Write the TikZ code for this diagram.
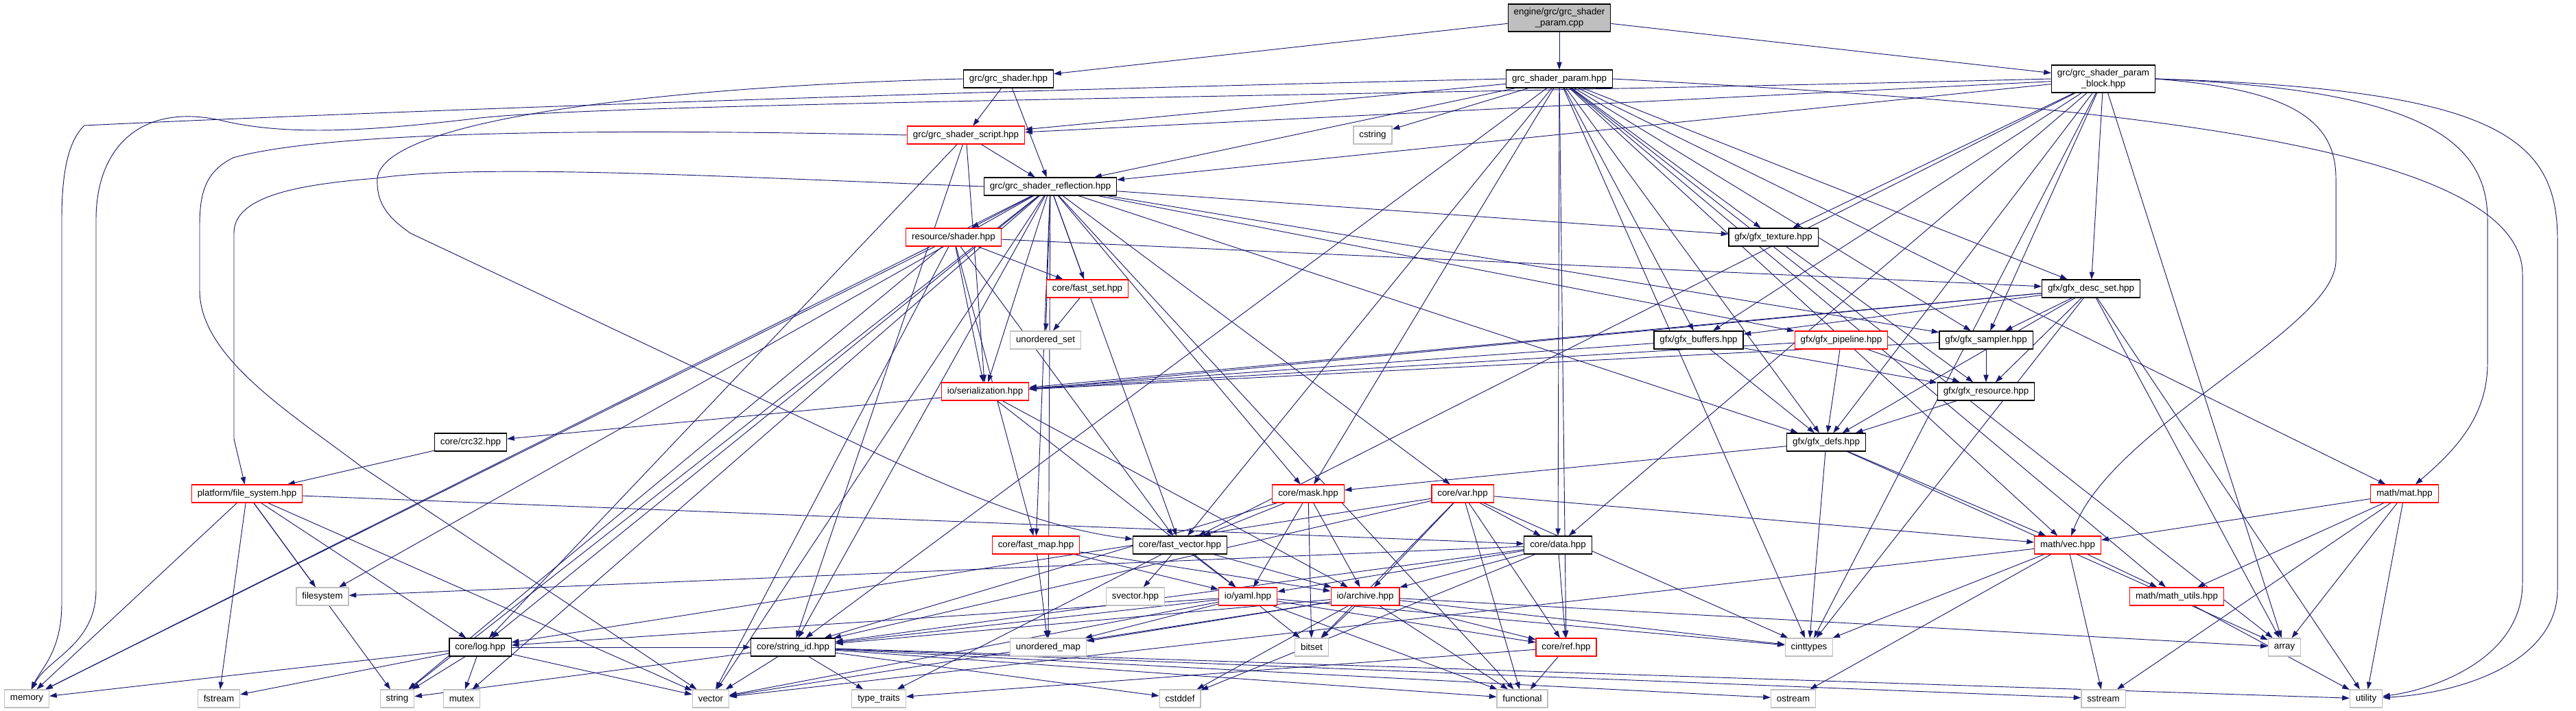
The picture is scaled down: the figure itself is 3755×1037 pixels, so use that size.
\documentclass[tikz,border=0pt]{standalone}
\usepackage{fontspec}
\setmainfont{Liberation Sans}
\usetikzlibrary{arrows.meta, backgrounds}
\definecolor{cedge}{HTML}{191970}
\definecolor{cred}{HTML}{FF0000}
\definecolor{cgrey}{HTML}{BFBFBF}
\tikzset{
  every picture/.style={font=\fontsize{10}{11.5}\selectfont},
  file/.style={draw=#1, fill=white, line width=0.9pt, inner xsep=6.3pt, inner ysep=0pt, minimum height=19.5pt, align=center},
  file/.default=black,
  trunc/.style={file=cred},
  sys/.style={file=cgrey},
  root/.style={file, fill=cgrey, minimum height=30pt},
  dep/.style={-{Triangle[length=8pt,width=5.5pt]}, draw=cedge, line width=0.7pt},
}

\begin{document}
\begin{tikzpicture}[x=0.75pt, y=-0.75pt]
  \useasboundingbox (0,0) rectangle (3755,1037);
  % top files
  \node[root] (root) at (2273,26) {engine/grc/grc\_shader\\\_param.cpp};
  \node[file] (grcshader) at (1470,115) {grc/grc\_shader.hpp};
  \node[file] (gsp) at (2273,115) {grc\_shader\_param.hpp};
  \node[file, minimum height=30pt] (gspb) at (3066,115) {grc/grc\_shader\_param\\\_block.hpp};
  \node[trunc] (script) at (1408,197) {grc/grc\_shader\_script.hpp};
  \node[sys] (cstring) at (2001,197) {cstring};
  \node[file] (refl) at (1531,272) {grc/grc\_shader\_reflection.hpp};
  % gfx and resources
  \node[trunc] (shader) at (1390,346) {resource/shader.hpp};
  \node[file] (texture) at (2585,346) {gfx/gfx\_texture.hpp};
  \node[trunc] (fastset) at (1585,421) {core/fast\_set.hpp};
  \node[file] (descset) at (3048,421) {gfx/gfx\_desc\_set.hpp};
  \node[sys] (uset) at (1524,496) {unordered\_set};
  \node[file] (buffers) at (2476,496) {gfx/gfx\_buffers.hpp};
  \node[trunc] (pipeline) at (2684,496) {gfx/gfx\_pipeline.hpp};
  \node[file] (sampler) at (2895,496) {gfx/gfx\_sampler.hpp};
  \node[trunc] (serial) at (1436,571) {io/serialization.hpp};
  \node[file] (gfxres) at (2895,571) {gfx/gfx\_resource.hpp};
  \node[file] (crc32) at (686,645) {core/crc32.hpp};
  \node[file] (defs) at (2662,645) {gfx/gfx\_defs.hpp};
  % core, io and math
  \node[trunc] (filesys) at (360,720) {platform/file\_system.hpp};
  \node[trunc] (mask) at (1907,720) {core/mask.hpp};
  \node[trunc] (var) at (2132,720) {core/var.hpp};
  \node[trunc] (mat) at (3505,720) {math/mat.hpp};
  \node[trunc] (fastmap) at (1510,795) {core/fast\_map.hpp};
  \node[file] (fvec) at (1720,795) {core/fast\_vector.hpp};
  \node[file] (data) at (2271,795) {core/data.hpp};
  \node[trunc] (vec) at (3014,795) {math/vec.hpp};
  \node[sys] (filesystem) at (470,870) {filesystem};
  \node[sys] (svector) at (1655,870) {svector.hpp};
  \node[trunc] (yaml) at (1819,870) {io/yaml.hpp};
  \node[trunc] (archive) at (1990,870) {io/archive.hpp};
  \node[trunc] (mathutils) at (3173,870) {math/math\_utils.hpp};
  \node[file] (log) at (700,944) {core/log.hpp};
  \node[file] (strid) at (1156,944) {core/string\_id.hpp};
  \node[sys] (umap) at (1528,944) {unordered\_map};
  \node[sys] (bitset) at (1912,944) {bitset};
  \node[trunc] (ref) at (2283,944) {core/ref.hpp};
  \node[sys] (cinttypes) at (2637,944) {cinttypes};
  \node[sys] (array) at (3330,944) {array};
  % system headers
  \node[sys] (memory) at (39,1019) {memory};
  \node[sys] (fstream) at (319,1019) {fstream};
  \node[sys] (string) at (579,1019) {string};
  \node[sys] (mutex) at (673,1019) {mutex};
  \node[sys] (vector) at (1036,1019) {vector};
  \node[sys] (typetraits) at (1281,1019) {type\_traits};
  \node[sys] (cstddef) at (1720,1019) {cstddef};
  \node[sys] (functional) at (2219,1019) {functional};
  \node[sys] (ostream) at (2614,1019) {ostream};
  \node[sys] (sstream) at (3066,1019) {sstream};
  \node[sys] (utility) at (3449,1019) {utility};
  % includes
  \begin{scope}[on background layer]
    \foreach \t in {grcshader,gsp,gspb} \draw[dep] (root) -- (\t);
    \foreach \t in {script,refl} \draw[dep] (grcshader) -- (\t);
    \foreach \t in {script,cstring,refl,texture,descset,buffers,sampler,defs,mask,fvec,data,vec,mat,ref,strid,mathutils,cinttypes,array}
      \draw[dep] (gsp) -- (\t);
    \foreach \t in {script,refl,texture,descset,buffers,sampler,defs,fvec,data,cinttypes,array}
      \draw[dep] (gspb) -- (\t);
    \foreach \t in {refl,serial,strid,log} \draw[dep] (script) -- (\t);
    \foreach \t in {shader,texture,fastset,uset,pipeline,sampler,serial,defs,mask,var,fastmap,fvec,log,strid,umap,memory,string,mutex,vector,functional,filesystem}
      \draw[dep] (refl) -- (\t);
    \foreach \t in {fastset,descset,serial,fastmap,fvec,memory,string,vector} \draw[dep] (shader) -- (\t);
    \draw[dep] (texture) -- (gfxres);
    \draw[dep] (fastset) -- (uset);
    \foreach \t in {buffers,sampler,gfxres,serial,crc32,defs,cinttypes,array,utility} \draw[dep] (descset) -- (\t);
    \foreach \t in {serial,gfxres,defs} \draw[dep] (buffers) -- (\t);
    \foreach \t in {serial,gfxres,defs} \draw[dep] (pipeline) -- (\t);
    \foreach \t in {serial,gfxres} \draw[dep] (sampler) -- (\t);
    \draw[dep] (gfxres) -- (defs);
    \foreach \t in {mask,vec,cinttypes,array} \draw[dep] (defs) -- (\t);
    \draw[dep] (crc32) -- (filesys);
    \foreach \t in {memory,fstream,string,filesystem,vector,data,log} \draw[dep] (filesys) -- (\t);
    \foreach \t in {fvec,yaml,archive,bitset,strid} \draw[dep] (mask) -- (\t);
    \foreach \t in {data,ref,functional,archive,strid,vec,cinttypes,bitset,log} \draw[dep] (var) -- (\t);
    \foreach \t in {umap,yaml,archive} \draw[dep] (fastmap) -- (\t);
    \foreach \t in {svector,yaml,archive,typetraits} \draw[dep] (fvec) -- (\t);
    \foreach \t in {yaml,archive,ref,cstddef,strid,filesystem} \draw[dep] (data) -- (\t);
    \foreach \t in {mathutils,cinttypes,sstream,ostream,vector} \draw[dep] (vec) -- (\t);
    \foreach \t in {vec,mathutils,array,sstream,utility} \draw[dep] (mat) -- (\t);
    \draw[dep] (mathutils) -- (utility);
    \foreach \t in {yaml,archive} \draw[dep] (serial) -- (\t);
    \foreach \t in {umap,bitset,ref,strid,cinttypes,log,vector,functional} \draw[dep] (yaml) -- (\t);
    \foreach \t in {umap,bitset,ref,strid,cinttypes,array,vector,functional,cstddef} \draw[dep] (archive) -- (\t);
    \foreach \t in {memory,fstream,string,mutex,vector,strid} \draw[dep] (log) -- (\t);
    \foreach \t in {string,vector,typetraits,cstddef,functional,ostream,sstream,utility} \draw[dep] (strid) -- (\t);
    \foreach \t in {functional,typetraits} \draw[dep] (ref) -- (\t);
    % long routes round the sides
    \draw[dep] (gsp.west) .. controls (1300,135) and (500,165) .. (123,183)
      .. controls (100,205) and (90,250) .. (90,320) -- (90,880) .. controls (90,950) and (60,975) .. (memory);
    \draw[dep] (gspb.west) .. controls (2000,140) and (900,150) .. (700,172)
      .. controls (550,190) and (420,200) .. (320,175) .. controls (200,150) and (140,220) .. (140,320)
      -- (140,860) .. controls (140,940) and (70,960) .. (memory);
    \draw[dep] (script.west) .. controls (1000,190) and (500,185) .. (340,230)
      .. controls (300,250) and (291,280) .. (291,330) -- (291,423)
      .. controls (291,520) and (420,600) .. (526,680) -- (vector);
    \draw[dep] (refl.west) .. controls (1100,260) and (700,237) .. (549,260)
      .. controls (420,270) and (341,290) .. (341,340) -- (341,640) -- (filesys);
    \draw[dep] (grcshader.west) .. controls (1000,125) and (560,170) .. (550,260)
      .. controls (548,300) and (570,320) .. (598,340) -- (1250,648) .. controls (1450,745) and (1560,775) .. (fvec);
    \draw[dep] (gspb.east) .. controls (3330,130) and (3405,170) .. (3405,260) -- (3405,380)
      .. controls (3405,480) and (3080,620) .. (vec);
    \draw[dep] (gspb.east) .. controls (3520,130) and (3626,200) .. (3626,320) -- (3626,530)
      .. controls (3626,610) and (3575,660) .. (mat);
    \draw[dep] (gspb.east) .. controls (3640,130) and (3728,200) .. (3728,350) -- (3728,860)
      .. controls (3728,960) and (3600,1010) .. (utility);
    \draw[dep] (gsp.east) .. controls (3000,150) and (3677,200) .. (3677,400) -- (3677,850)
      .. controls (3677,960) and (3550,1005) .. (utility);
  \end{scope}
\end{tikzpicture}
\end{document}
